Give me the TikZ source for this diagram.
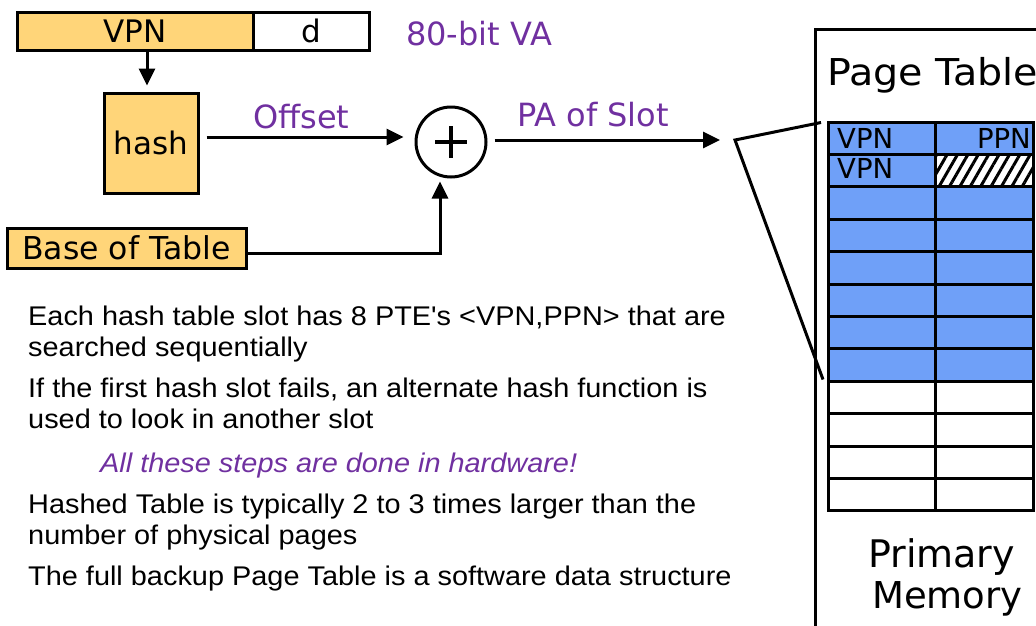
\documentclass[tikz,border=0pt]{standalone}
\usepackage{fontspec}
\setmainfont{DejaVu Sans}
\newfontfamily\widefont{DejaVu Sans}[FakeStretch=1.07]
\newfontfamily\bodyfont{Liberation Sans}[FakeStretch=1.07]
\usetikzlibrary{arrows.meta,patterns.meta,calc}
\definecolor{boxyellow}{RGB}{255,213,121}
\definecolor{labelpurple}{RGB}{112,48,160}
\definecolor{rowblue}{RGB}{111,160,248}

\begin{document}
\begin{tikzpicture}[x=1pt,y=-1pt,
  field/.style={draw, line width=3pt, fill=boxyellow, inner sep=0pt,
    font=\fontsize{31}{31}\selectfont},
  lbl/.style={text=labelpurple, inner sep=0pt, anchor=base west,
    font=\fontsize{32}{32}\selectfont},
  arr/.style={line width=3pt, -{Triangle[length=17pt,width=16pt]}},
  wire/.style={line width=3pt},
  grid/.style={line width=3pt},
  body/.style={inner sep=0pt, anchor=base west,
    font=\bodyfont\fontsize{27}{31}\selectfont},
  cell/.style={inner sep=0pt, font=\fontsize{27.5}{27.5}\selectfont},
  big/.style={inner sep=0pt, anchor=base west, font=\fontsize{38}{38}\selectfont}
]
\useasboundingbox (0,0) rectangle (1036,625);

% ---- virtual address bar ----
\node[field, minimum width=236pt, minimum height=38pt] (vpn) at (135,31) {VPN};
\node[field, fill=white, minimum width=116pt, minimum height=38pt] (dfield) at (311,31) {d};
\node[lbl] (valbl) at (406,45) {80-bit VA};

% ---- hash and base boxes ----
\node[field, minimum width=94pt, minimum height=100pt] (hash) at (151,143) {hash};
\node[field, minimum width=239pt, minimum height=40pt, font=\fontsize{31.5}{31.5}\selectfont]
  (base) at (126.5,248) {Base of Table};

% ---- adder ----
\node[draw, circle, line width=3pt, minimum size=70pt, inner sep=0pt] (sum) at (451,142) {};
\draw[line width=3.5pt] ($(sum.center)+(-16,0)$) -- ($(sum.center)+(16,0)$);
\draw[line width=3.5pt] ($(sum.center)+(0,-16)$) -- ($(sum.center)+(0,16)$);

% ---- connectors ----
\coordinate (downx) at (147,0);
\coordinate (offy) at (0,137);
\coordinate (basey) at (0,253);
\coordinate (upx) at (440,0);
\coordinate (slot) at (735,140);

\draw[arr, shorten >=6pt] (vpn.south -| downx) -- (hash.north -| downx);
\draw[arr, shorten <=7pt, shorten >=11pt] (hash.east |- offy) -- (sum.west |- offy);
\node[lbl] (offlbl) at (253,128) {Offset};
\draw[arr, shorten >=3pt] (base.east |- basey) -| (upx |- sum.south);
\draw[arr, shorten <=7pt, shorten >=15pt] (sum.east |- slot) -- (slot);
\node[lbl] (palbl) at (517,126) {PA of Slot};

% ---- memory panel ----
\draw[line width=3pt] (1045,29) -- (815,29) -- (815,640);
\node[big, font=\widefont\fontsize{37}{37}\selectfont] (pttitle) at (827,85) {Page Table};

\def\rowh{32.4}
\fill[rowblue] (828,122) rectangle (1033,{122+8*\rowh});
\fill[white] (935,{122+\rowh}) rectangle (1033,{122+2*\rowh});
\fill[pattern={Lines[angle=60,distance=9pt,line width=3pt]}]
  (935,{122+\rowh}) rectangle (1033,{122+2*\rowh});
\draw[grid] (828,122) rectangle (1033,{122+12*\rowh});
\draw[grid] (935,122) -- (935,{122+12*\rowh});
\foreach \i in {1,...,11} \draw[grid] (828,{122+\i*\rowh}) -- (1033,{122+\i*\rowh});

\node[cell, anchor=base west] (vpn1) at (837,148) {VPN};
\node[cell, anchor=base east] (ppn1) at (1031,148) {PPN};
\node[cell, anchor=base west] (vpn2) at (837,178) {VPN};

\coordinate (slottop) at (821,122.5);
\coordinate (slotbot) at (823,379.5);
\draw[wire] (slottop) -- (slot) -- (slotbot);

\node[big] (prim) at (868,567) {Primary};
\node[big, font=\fontsize{37}{37}\selectfont] (mem) at (872,608) {Memory};

% ---- notes ----
\node[body] (n1a) at (28,325) {Each hash table slot has 8 PTE's <VPN,PPN> that are};
\node[body] (n1b) at (28,356) {searched sequentially};
\node[body] (n2a) at (28,397) {If the first hash slot fails, an alternate hash function is};
\node[body] (n2b) at (28,428) {used to look in another slot};
\node[body, text=labelpurple, font=\bodyfont\itshape\fontsize{27}{31}\selectfont]
  (n3) at (100,472) {All these steps are done in hardware!};
\node[body] (n4a) at (28,513) {Hashed Table is typically 2 to 3 times larger than the};
\node[body] (n4b) at (28,544) {number of physical pages};
\node[body] (n5) at (28,585) {The full backup Page Table is a software data structure};
\end{tikzpicture}
\end{document}
